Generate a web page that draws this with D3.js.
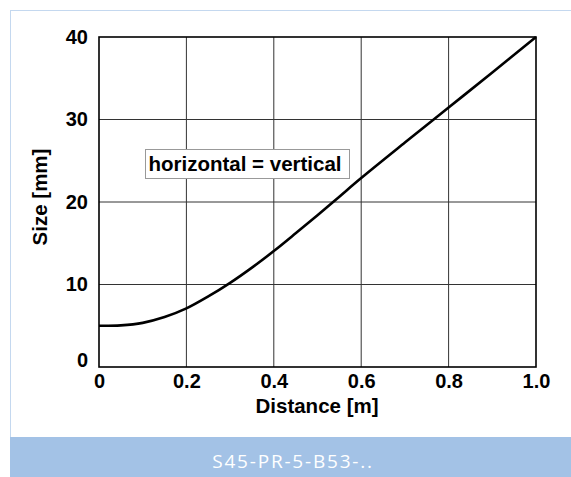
<!DOCTYPE html>
<html>
<head>
<meta charset="utf-8">
<script src="https://cdn.jsdelivr.net/npm/d3@7"></script>
<style>
  body { margin: 0; background: #fff; }
  svg text { font-family: "Liberation Sans", Arial, sans-serif; }
</style>
</head>
<body>
<script>
// values
var distance = [0, 0.05, 0.1, 0.15, 0.2, 0.25, 0.3, 0.35, 0.4, 0.45, 0.5, 0.55, 0.6, 0.7, 0.8, 0.9, 1.0];
var size = [5, 5.05, 5.35, 6.05, 7.1, 8.55, 10.2, 12.05, 14.05, 16.2, 18.4, 20.65, 22.9, 27.2, 31.45, 35.7, 40];
var xTicks = [0, 0.2, 0.4, 0.6, 0.8, 1.0];
var yTicks = [0, 10, 20, 30, 40];
var note = "horizontal = vertical";
var footer = "S45-PR-5-B53-..";

var W = 571, H = 477;
var margin = { top: 37, right: 35, bottom: 110, left: 99 },
    width = W - margin.left - margin.right,
    height = H - margin.top - margin.bottom;

var svg = d3.select("body").append("svg")
    .attr("width", W)
    .attr("height", H);

// outer frame
svg.append("rect")
    .attr("x", 10.5).attr("y", 10.5)
    .attr("width", W).attr("height", H)
    .style("fill", "none")
    .style("stroke", "#c4d8ef");

var g = svg.append("g")
    .attr("transform", "translate(" + margin.left + "," + margin.top + ")");

var x = d3.scaleLinear().domain([0, 1]).range([0, width]);
var y = d3.scaleLinear().domain([0, 40]).range([height, 0]);

// grid
g.selectAll(".vgrid")
    .data(xTicks.slice(1, -1))
    .enter().append("line")
    .attr("x1", function (d) { return x(d); })
    .attr("x2", function (d) { return x(d); })
    .attr("y1", 0).attr("y2", height)
    .style("stroke", "#333").style("stroke-width", 1);

g.selectAll(".hgrid")
    .data(yTicks.slice(1, -1))
    .enter().append("line")
    .attr("y1", function (d) { return y(d); })
    .attr("y2", function (d) { return y(d); })
    .attr("x1", 0).attr("x2", width)
    .style("stroke", "#333").style("stroke-width", 1);

// axes with labels only
var xAxis = g.append("g")
    .attr("transform", "translate(0," + height + ")")
    .call(d3.axisBottom(x).tickValues(xTicks).tickSize(0).tickPadding(7)
        .tickFormat(function (d) { return d === 0 ? "0" : d3.format(".1f")(d); }));
var yAxis = g.append("g")
    .call(d3.axisLeft(y).tickValues(yTicks).tickSize(0).tickPadding(11));

[xAxis, yAxis].forEach(function (a) {
    a.select(".domain").remove();
    a.selectAll("text")
        .style("font-size", "20px")
        .style("font-weight", "bold")
        .style("fill", "#000");
});
yAxis.selectAll("text").filter(function (d) { return d === 0; })
    .attr("dy", "-0.05em");

// plot border
g.append("rect")
    .attr("width", width).attr("height", height)
    .style("fill", "none")
    .style("stroke", "#000").style("stroke-width", 1.6);

// curve
var line = d3.line()
    .x(function (d, i) { return x(distance[i]); })
    .y(function (d) { return y(d); })
    .curve(d3.curveCatmullRom.alpha(0.5));

g.append("path")
    .datum(size)
    .attr("d", line)
    .style("fill", "none")
    .style("stroke", "#000")
    .style("stroke-width", 2.6);

// note box
var noteG = g.append("g");
noteG.append("rect")
    .attr("x", 46.5).attr("y", 112.5)
    .attr("width", 204).attr("height", 29)
    .style("fill", "#fff")
    .style("stroke", "#999");
noteG.append("text")
    .attr("x", 146).attr("y", 134)
    .style("text-anchor", "middle")
    .style("font-size", "20.5px")
    .style("font-weight", "bold")
    .text(note);

// axis titles
svg.append("text")
    .attr("x", 317).attr("y", 413)
    .style("text-anchor", "middle")
    .style("font-size", "20.5px")
    .style("font-weight", "bold")
    .text("Distance [m]");

svg.append("text")
    .attr("transform", "translate(47,197) rotate(-90)")
    .style("text-anchor", "middle")
    .style("font-size", "20.5px")
    .style("font-weight", "bold")
    .text("Size [mm]");

// footer band
svg.append("rect")
    .attr("x", 10).attr("y", 437)
    .attr("width", W - 10).attr("height", H - 437)
    .style("fill", "#a3c2e6");
svg.append("text")
    .attr("x", 293).attr("y", 468)
    .style("text-anchor", "middle")
    .style("font-family", "'Open Sans', sans-serif")
    .style("font-weight", 400)
    .style("font-size", "19px")
    .style("letter-spacing", "1.8px")
    .style("fill", "#fff")
    .text(footer);
</script>
</body>
</html>
